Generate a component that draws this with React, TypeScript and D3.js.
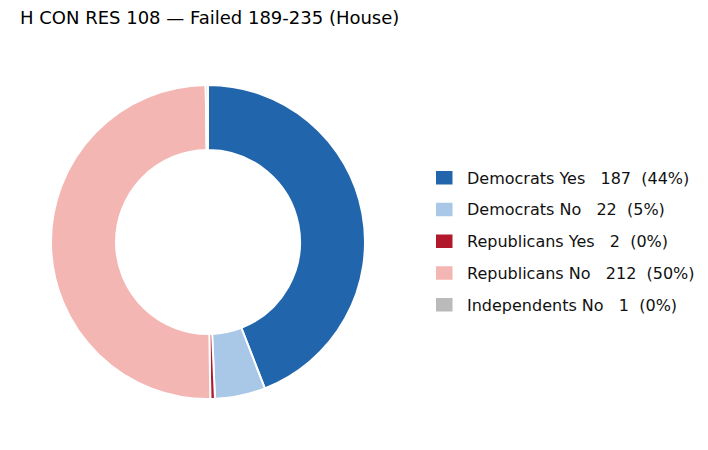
import * as d3 from "d3";

const width = 708;
const height = 450;

const labels = [
  "Democrats Yes",
  "Democrats No",
  "Republicans Yes",
  "Republicans No",
  "Independents No",
];
const votes = [187, 22, 2, 212, 1];
const colors = ["#2166ac", "#a9c8e7", "#b2182b", "#f4b6b3", "#bababa"];

type Slice = { label: string; value: number; color: string };

export default function App() {
  const data: Slice[] = labels.map((label, i) => ({
    label,
    value: votes[i],
    color: colors[i],
  }));
  const total = d3.sum(votes);

  const cx = 208;
  const cy = 242;
  const outer = 157;
  const inner = 92;

  const pie = d3
    .pie<Slice>()
    .value((d) => d.value)
    .sort(null)
    .startAngle(0)
    .endAngle(2 * Math.PI);

  const arc = d3.arc<d3.PieArcDatum<Slice>>().innerRadius(inner).outerRadius(outer);

  const legendY = d3
    .scalePoint<string>()
    .domain(labels)
    .range([178, 305]);

  const pct = (v: number) => `${Math.round((v / total) * 100)}%`;

  return (
    <svg
      width={width}
      height={height}
      style={{ display: "block", margin: "-8px", fontFamily: "DejaVu Sans" }}
    >
      <rect width={width} height={height} fill="#ffffff" />
      <text x={20} y={24} fontSize={18} fill="#000">
        H CON RES 108 — Failed 189-235 (House)
      </text>

      <g transform={`translate(${cx},${cy})`}>
        {pie(data).map((d) => (
          <path
            key={d.data.label}
            d={arc(d) ?? ""}
            fill={d.data.color}
            stroke="#ffffff"
            strokeWidth={2}
          />
        ))}
      </g>

      <g>
        {data.map((d) => {
          const y = legendY(d.label) ?? 0;
          return (
            <g key={d.label}>
              <rect x={436} y={y - 7} width={16.5} height={13.5} fill={d.color} />
              <text
                x={467}
                y={y}
                dy="0.35em"
                fontSize={16}
                fill="#111"
                style={{ whiteSpace: "pre" }}
              >
                {`${d.label}   ${d.value}  (${pct(d.value)})`}
              </text>
            </g>
          );
        })}
      </g>
    </svg>
  );
}
